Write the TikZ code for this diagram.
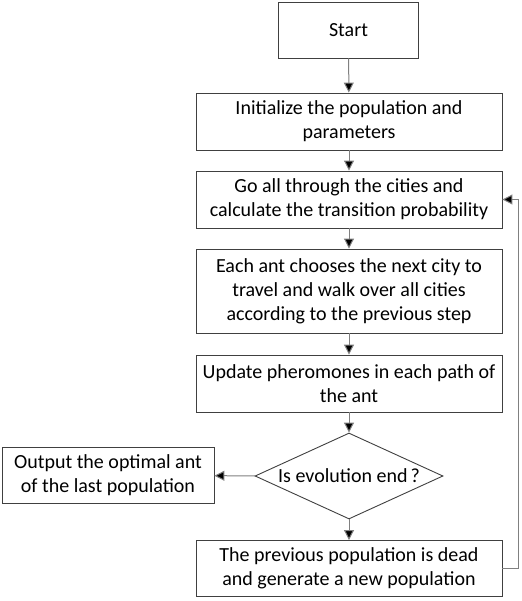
\documentclass[tikz,border=0pt]{standalone}
\usepackage{fontspec}
\setmainfont{Carlito}
\usetikzlibrary{arrows.meta,shapes.geometric}

\begin{document}
\begin{tikzpicture}[x=1pt,y=-1pt,
    box/.style={draw=black!75,line width=0.9pt,fill=white,align=center,inner sep=0pt,
        font=\fontsize{20}{24}\selectfont},
    cond/.style={box,diamond,aspect=2.2,minimum width=188pt,minimum height=86pt},
    flow/.style={draw=black!50,line width=1pt,-{Triangle[length=10pt,width=10pt,fill=black]}}]
            \useasboundingbox (0,0) rectangle (521,601);
            \node[box,minimum width=140pt,minimum height=56pt] (start) at (348.5,30) {Start};
            \node[box,minimum width=306pt,minimum height=57pt] (init) at (349,121.5) {Initialize the population and\\parameters};
            \node[box,minimum width=306pt,minimum height=57pt] (prob) at (349,199.5) {Go all through the cities and\\calculate the transition probability};
            \node[box,minimum width=306pt,minimum height=84pt] (walk) at (349,291) {Each ant chooses the next city to\\travel and walk over all cities\\according to the previous step};
            \node[box,minimum width=306pt,minimum height=57pt] (phero) at (349,383.5) {Update pheromones in each path of\\the ant};
            \node[cond] (isend) at (349,476) {Is evolution end\hspace{3pt}?};
            \node[box,minimum width=212pt,minimum height=56pt] (output) at (108,475.5) {Output the optimal ant\\of the last population};
            \node[box,minimum width=306pt,minimum height=56pt] (newpop) at (349,568.5) {The previous population is dead\\and generate a new population};
            \coordinate (back) at (518,0);
            \draw[flow] (start) -- (init);
            \draw[flow] (init) -- (prob);
            \draw[flow] (prob) -- (walk);
            \draw[flow] (walk) -- (phero);
            \draw[flow] (phero) -- (isend);
            \draw[flow] (isend) -- (output);
            \draw[flow] (isend) -- (newpop);
            \draw[flow] (newpop.east) -- (newpop.east -| back) -- (prob.east -| back) -- (prob.east);
        \end{tikzpicture}
\end{document}
